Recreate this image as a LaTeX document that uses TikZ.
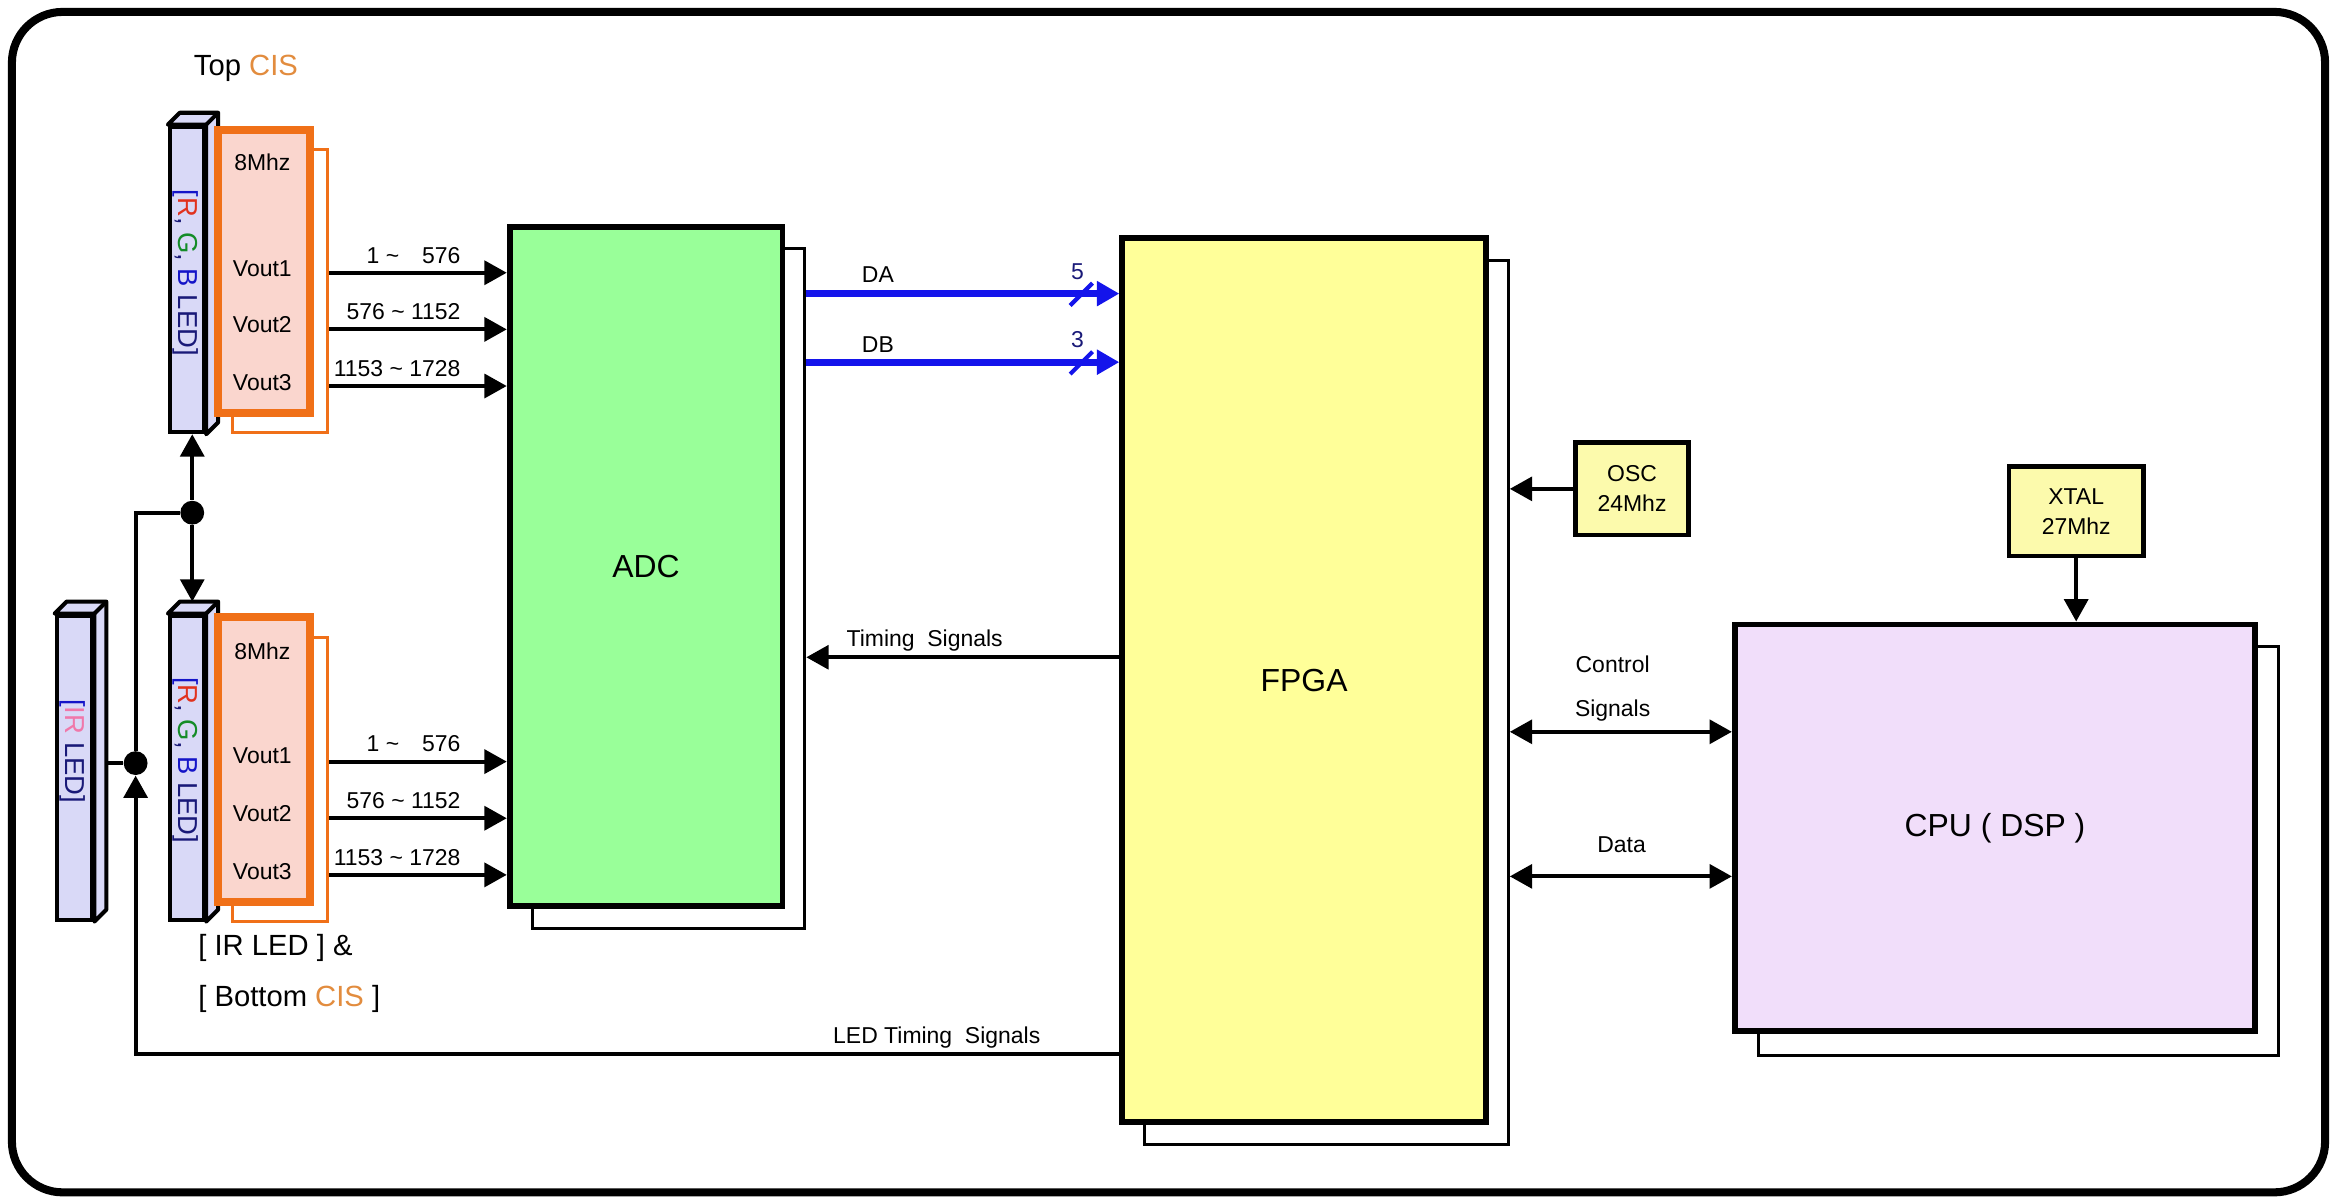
\documentclass[tikz,border=0pt]{standalone}
\usepackage{fontspec}
\setmainfont{Liberation Sans}
\usetikzlibrary{arrows.meta,calc}
\definecolor{ledfill}{RGB}{217,217,247}
\definecolor{cisfill}{RGB}{250,214,206}
\definecolor{cisline}{RGB}{240,112,24}
\definecolor{cistext}{RGB}{226,140,62}
\definecolor{adcfill}{RGB}{153,255,153}
\definecolor{fpgafill}{RGB}{255,255,153}
\definecolor{oscfill}{RGB}{252,250,172}
\definecolor{cpufill}{RGB}{241,222,250}
\definecolor{busblue}{RGB}{20,20,235}
\definecolor{navy}{RGB}{25,25,120}
\definecolor{ledred}{RGB}{225,50,30}
\definecolor{ledgreen}{RGB}{20,140,40}
\definecolor{ledblue}{RGB}{20,20,200}
\definecolor{irpink}{RGB}{240,120,170}
\newcommand{\barsides}[1]{%
  \filldraw[fill=ledfill, line width=1.35pt, line join=round] (#1.north west) -- ++(8,-8) -- ($(#1.north east)+(8,-8)$) -- ($(#1.south east)+(8,-8)$) -- (#1.south east) -- (#1.north east) -- cycle;
  \draw[line width=1.35pt] (#1.north east) -- ++(8,-8);}
\tikzset{
  bigtxt/.style={font=\fontsize{10.7}{13}\selectfont},
  midtxt/.style={font=\fontsize{9.8}{12}\selectfont},
  smalltxt/.style={font=\fontsize{7.7}{10}\selectfont},
  bartxt/.style={rotate=-90, font=\fontsize{9.2}{11}\selectfont, text=navy, inner sep=0pt},
  mainbox/.style={draw, line width=2pt, inner sep=0pt},
  shadowbox/.style={draw, fill=white, line width=1pt, inner sep=0pt},
  cisbox/.style={draw=cisline, fill=cisfill, line width=2.7pt, inner sep=0pt, minimum width=31pt},
  cisshadow/.style={draw=cisline, fill=white, line width=1pt, inner sep=0pt, minimum width=32pt},
  ledface/.style={draw, fill=ledfill, line width=1.35pt, inner sep=0pt, minimum width=11.5pt, minimum height=102.5pt},
  conn/.style={line width=1.3pt},
  arr/.style={-{Triangle[length=7.5pt,width=8pt]}},
  dbl/.style={{Triangle[length=7.5pt,width=8pt]}-{Triangle[length=7.5pt,width=8pt]}},
  bus/.style={line width=2.3pt, draw=busblue, -{Triangle[length=7.5pt,width=8pt]}},
  slash/.style={line width=1.4pt, draw=busblue},
  junction/.style={circle, fill, inner sep=0pt, minimum size=8pt},
}
\begin{document}
\begin{tikzpicture}[x=0.5pt,y=-0.5pt]
\useasboundingbox (0,0) rectangle (1568,807);
\draw[line width=2.7pt, rounded corners=17pt] (8,8) rectangle (1560,800);

% ---- boxes
\node[shadowbox, minimum width=91.5pt, minimum height=228pt] (adcs) at (448.5,395) {};
\node[mainbox, fill=adcfill, minimum width=91.5pt, minimum height=228pt, bigtxt] (adc) at (433.5,380) {ADC};
\node[shadowbox, minimum width=122pt, minimum height=296.5pt] (fpgas) at (890,471.5) {};
\node[mainbox, fill=fpgafill, minimum width=122pt, minimum height=296.5pt, bigtxt] (fpga) at (875,456.5) {FPGA};
\node[shadowbox, minimum width=174.5pt, minimum height=137pt] (cpus) at (1354.5,571) {};
\node[mainbox, fill=cpufill, minimum width=174.5pt, minimum height=136.5pt, bigtxt] (cpu) at (1338.5,555.5) {CPU ( DSP )};
\node[mainbox, fill=oscfill, line width=1.5pt, minimum width=38pt, minimum height=31pt, smalltxt, align=center] (osc) at (1095,328) {OSC\\24Mhz};
\node[mainbox, fill=oscfill, line width=1.5pt, minimum width=45pt, minimum height=30pt, smalltxt, align=center] (xtal) at (1393,343) {XTAL\\27Mhz};

% ---- junctions
\node[junction] (d1) at (129,344) {};
\node[junction] (d2) at (91,512) {};
\coordinate (ledt) at (753,707);

% ---- left wiring (drawn before bars)
\draw[conn] (d1) -- (d1 -| d2) -- (d2);
\draw[conn] (d2) -- (62,512);
\draw[conn, arr] (ledt) -| (d2.south);

% ---- LED bars
\node[ledface] (tb) at (125.5,187.5) {};
\barsides{tb}
\node[ledface, minimum height=102pt] (bb) at (125.5,515) {};
\barsides{bb}
\node[ledface, minimum width=12pt, minimum height=102pt] (irb) at (50,515) {};
\barsides{irb}
\node[bartxt] at ($(tb.center)+(-1,-4.5)$) {\textcolor{ledblue}{[}\textcolor{ledred}{R}, \textcolor{ledgreen}{G}, \textcolor{ledblue}{B} LED]};
\node[bartxt] at ($(bb.center)+(-1,-5)$) {\textcolor{ledblue}{[}\textcolor{ledred}{R}, \textcolor{ledgreen}{G}, \textcolor{ledblue}{B} LED]};
\node[bartxt] at ($(irb.center)+(-1,-11)$) {\textcolor{ledblue}{[}\textcolor{irpink}{IR} LED]};

\coordinate (bbtop) at ($(bb.north)+(3.5,-8)$);
\draw[conn, arr] (d1) -- (d1 |- tb.south);
\draw[conn, arr] (d1) -- (bbtop);

% ---- CIS boxes
\node[cisshadow, minimum height=95pt] (tcs) at (188,195) {};
\node[cisbox, minimum height=95pt] (tc) at (177,182) {};
\node[cisshadow, minimum height=95pt] (bcs) at (188,523) {};
\node[cisbox, minimum height=95.5pt] (bc) at (177,509.5) {};

\node[smalltxt] at (176,109) {8Mhz};
\node[smalltxt] at (176,180) {Vout1};
\node[smalltxt] at (176,218) {Vout2};
\node[smalltxt] at (176,257) {Vout3};
\node[smalltxt] at (176,437) {8Mhz};
\node[smalltxt] at (176,507) {Vout1};
\node[smalltxt] at (176,546) {Vout2};
\node[smalltxt] at (176,585) {Vout3};

\node[midtxt] at (165,46) {Top \textcolor{cistext}{CIS}};
\node[midtxt, anchor=west] at (126,636) {[ IR LED ] \&};
\node[midtxt, anchor=west] at (126,670) {[ Bottom \textcolor{cistext}{CIS} ]};

% ---- CIS to ADC
\draw[conn, arr] (tcs.east |- 0,183) -- (adc.west |- 0,183);
\draw[conn, arr] (tcs.east |- 0,221) -- (adc.west |- 0,221);
\draw[conn, arr] (tcs.east |- 0,259) -- (adc.west |- 0,259);
\draw[conn, arr] (bcs.east |- 0,511) -- (adc.west |- 0,511);
\draw[conn, arr] (bcs.east |- 0,549) -- (adc.west |- 0,549);
\draw[conn, arr] (bcs.east |- 0,587) -- (adc.west |- 0,587);
\node[smalltxt, anchor=base east] at (316,176.5) {1 \textasciitilde\quad576};
\node[smalltxt, anchor=base east] at (316,214.5) {576 \textasciitilde\ 1152};
\node[smalltxt, anchor=base east] at (316,252.5) {1153 \textasciitilde\ 1728};
\node[smalltxt, anchor=base east] at (316,504) {1 \textasciitilde\quad576};
\node[smalltxt, anchor=base east] at (316,542.5) {576 \textasciitilde\ 1152};
\node[smalltxt, anchor=base east] at (316,580.5) {1153 \textasciitilde\ 1728};

% ---- ADC to FPGA buses
\draw[bus] (adcs.east |- 0,197) -- (fpga.west |- 0,197);
\draw[bus] (adcs.east |- 0,243) -- (fpga.west |- 0,243);
\coordinate (sa) at (726,197);
\coordinate (sb) at (726,243);
\draw[slash] ($(sa)+(-8,8)$) -- ($(sa)+(7,-7)$);
\draw[slash] ($(sb)+(-8,8)$) -- ($(sb)+(7,-7)$);
\node[smalltxt] at (589,184) {DA};
\node[smalltxt] at (589,231) {DB};
\node[smalltxt, text=navy] at (723,182) {5};
\node[smalltxt, text=navy] at (723,228) {3};

% ---- timing signals
\draw[conn, arr] (fpga.west |- 0,441) -- (adcs.east |- 0,441);
\node[smalltxt, anchor=west] at (561,429.5) {Timing\ \ Signals};
\node[smalltxt] at (628.5,696) {LED Timing\ \ Signals};

% ---- right side
\draw[conn, arr] (osc.west) -- (fpgas.east |- osc.west);
\draw[conn, arr] (xtal.south) -- (xtal.south |- cpu.north);
\draw[conn, dbl] (fpgas.east |- 0,491) -- (cpu.west |- 0,491);
\draw[conn, dbl] (fpgas.east |- 0,588) -- (cpu.west |- 0,588);
\node[smalltxt, align=center, font=\fontsize{7.7}{14.5}\selectfont] at (1082,462) {Control\\Signals};
\node[smalltxt] at (1088,567) {Data};
\end{tikzpicture}
\end{document}
